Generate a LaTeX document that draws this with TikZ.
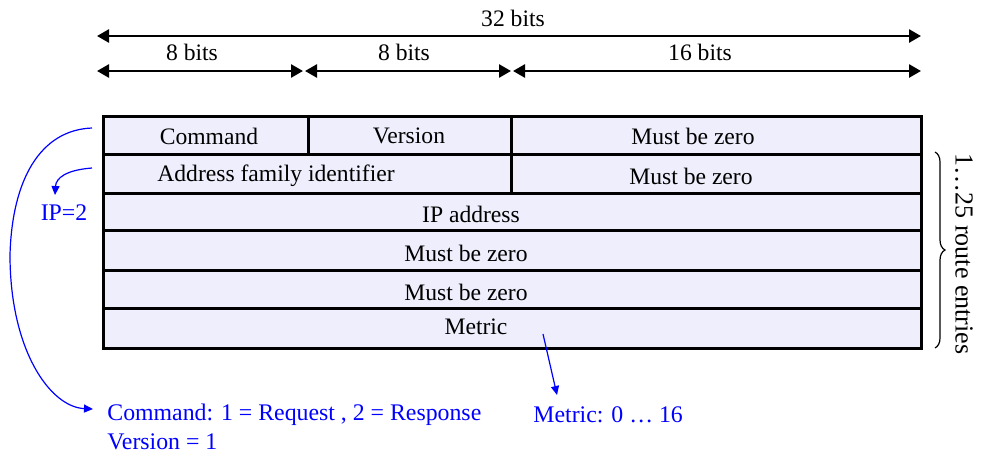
\documentclass[tikz,border=0pt]{standalone}
\usepackage{fontspec}
\setmainfont{Liberation Serif}
\usetikzlibrary{arrows.meta,decorations.pathreplacing}
\definecolor{cellfill}{RGB}{238,238,252}
\definecolor{noteblue}{RGB}{0,0,255}

\begin{document}
\begin{tikzpicture}[x=0.5pt,y=-0.5pt,
  cell/.style={draw=black, line width=1.4pt, fill=cellfill, inner sep=0pt, anchor=north west},
  txt/.style={font=\fontsize{11.8}{14}\selectfont, inner sep=0pt},
  note/.style={font=\fontsize{11.9}{14}\selectfont, text=noteblue, inner sep=0pt, anchor=west},
  dim/.style={line width=1.3pt, {Triangle[length=6pt,width=6.5pt]}-{Triangle[length=6pt,width=6.5pt]}},
  pointer/.style={draw=noteblue, line width=0.6pt, -{Triangle[length=4.5pt,width=4pt]}}]
\useasboundingbox (0,0) rectangle (983,456);

% bit-width rulers
\coordinate (w32l) at (97,36);  \coordinate (w32r) at (921,36);
\coordinate (w8al) at (97,71);  \coordinate (w8ar) at (303,71);
\coordinate (w8bl) at (305,71); \coordinate (w8br) at (511,71);
\coordinate (w16l) at (513,71); \coordinate (w16r) at (921,71);
\draw[dim] (w32l) -- (w32r);
\draw[dim] (w8al) -- (w8ar);
\draw[dim] (w8bl) -- (w8br);
\draw[dim] (w16l) -- (w16r);
\node[txt] (l32) at (513,18) {32 bits};
\node[txt] (l8a) at (192,52) {8 bits};
\node[txt] (l8b) at (404,52) {8 bits};
\node[txt] (l16) at (700,52) {16 bits};

% header row
\node[cell, minimum width=102.5pt, minimum height=19pt] (cmd) at (102,115) {};
\node[cell, minimum width=101.5pt, minimum height=19pt] (ver) at (307,115) {};
\node[cell, minimum width=205pt, minimum height=19pt] (mbz0) at (510,115) {};
% route entry rows
\node[cell, minimum width=204pt, minimum height=19.5pt] (afi) at (102,153) {};
\node[cell, minimum width=205pt, minimum height=19.5pt] (mbz1) at (510,153) {};
\node[cell, minimum width=409pt, minimum height=18.5pt] (ip) at (102,192) {};
\node[cell, minimum width=409pt, minimum height=20pt] (mbz2) at (102,229) {};
\node[cell, minimum width=409pt, minimum height=19pt] (mbz3) at (102,269) {};
\node[cell, minimum width=409pt, minimum height=20pt] (met) at (102,307) {};

% field names
\node[txt] (tcmd) at (209,136) {Command};
\node[txt] (tver) at (409,136) {Version};
\node[txt] (tmbz0) at (693,136) {Must be zero};
\node[txt] (tafi) at (276,176) {Address family identifier};
\node[txt] (tmbz1) at (691,176) {Must be zero};
\node[txt] (tip) at (471,214) {IP address};
\node[txt] (tmbz2) at (466,253) {Must be zero};
\node[txt] (tmbz3) at (466,292) {Must be zero};
\node[txt] (tmet) at (476,327) {Metric};

% repeated entries
\coordinate (brt) at (935,152); \coordinate (brb) at (935,348);
\draw[line width=0.6pt, decorate, decoration={brace, amplitude=5pt}] (brt) -- (brb);
\node[txt, font=\fontsize{13}{15}\selectfont, rotate=-90] (rep) at (964,254) {1…25 route entries};

% annotations
\node[note] (ncmd) at (107,415) {Command: 1 = Request , 2 = Response};
\node[note] (nver) at (107,442) {Version = 1};
\node[note] (nmet) at (533,415) {Metric: 0 … 16};
\node[note, anchor=center] (nip) at (64,213) {IP=2};

\coordinate (pc) at (92,128);
\coordinate (pct) at (93,409);
\coordinate (pa) at (92,168);
\coordinate (pipt) at (55,195);
\coordinate (pm) at (543,334);
\coordinate (pmt) at (557,395);
\draw[pointer] (pc) .. controls (40,130) and (12,180) .. (10,255)
  .. controls (10,350) and (50,407) .. (pct);
\draw[pointer] (pa) .. controls (66,170) and (56,178) .. (pipt);
\draw[pointer] (pm) -- (pmt);
\end{tikzpicture}
\end{document}
